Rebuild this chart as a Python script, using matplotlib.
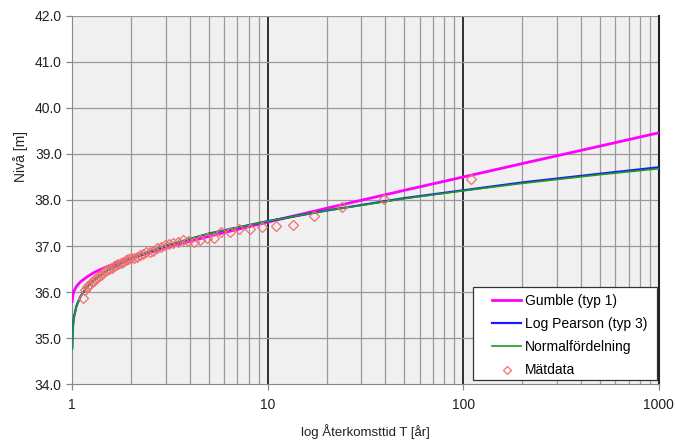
import matplotlib.pyplot as plt
from matplotlib.patches import Rectangle
from matplotlib.ticker import FixedLocator, FuncFormatter, NullFormatter

plt.rcParams['font.family'] = ['Liberation Sans', 'DejaVu Sans']

# return periods for the fitted curves
curve_T = [1.001, 1.002, 1.005, 1.01, 1.02, 1.05, 1.1, 1.2, 1.3, 1.5, 2, 3, 5,
           10, 20, 50, 100, 200, 500, 1000]
gumbel = [35.80, 35.84, 35.89, 35.95, 36.02, 36.12, 36.22, 36.34, 36.43, 36.55,
          36.74, 36.96, 37.21, 37.52, 37.82, 38.21, 38.50, 38.79, 39.17, 39.46]
log_pearson = [34.80, 34.93, 35.12, 35.28, 35.45, 35.69, 35.90, 36.13, 36.27, 36.46,
               36.73, 37.00, 37.27, 37.54, 37.77, 38.04, 38.21, 38.38, 38.57, 38.71]
normal = [34.76, 34.92, 35.11, 35.27, 35.44, 35.68, 35.89, 36.13, 36.27, 36.46,
          36.735, 37.01, 37.27, 37.54, 37.77, 38.03, 38.20, 38.36, 38.55, 38.68]

# observed data (Gringorten plotting positions)
obs_T = [109.14, 39.18, 23.88, 17.17, 13.40, 10.99, 9.32, 8.08, 7.14, 6.39,
         5.79, 5.29, 4.87, 4.51, 4.20, 3.93, 3.69, 3.48, 3.29, 3.12,
         2.97, 2.84, 2.71, 2.59, 2.49, 2.39, 2.30, 2.22, 2.14, 2.07,
         2.00, 1.94, 1.88, 1.82, 1.77, 1.72, 1.67, 1.63, 1.59, 1.55,
         1.51, 1.47, 1.44, 1.40, 1.37, 1.34, 1.31, 1.29, 1.26, 1.23,
         1.21, 1.19, 1.16, 1.14]
obs_level = [38.46, 38.02, 37.85, 37.66, 37.46, 37.44, 37.41, 37.38, 37.38, 37.30,
             37.30, 37.18, 37.18, 37.12, 37.08, 37.10, 37.12, 37.08, 37.06, 37.04,
             37.02, 36.98, 36.95, 36.90, 36.88, 36.86, 36.83, 36.80, 36.77, 36.75,
             36.73, 36.71, 36.69, 36.66, 36.64, 36.61, 36.59, 36.56, 36.53, 36.51,
             36.48, 36.45, 36.41, 36.38, 36.35, 36.31, 36.28, 36.25, 36.21, 36.17,
             36.13, 36.10, 36.05, 35.88]

fig = plt.figure(figsize=(6.75, 4.4), dpi=100)
ax = fig.add_axes([0.107, 0.127, 0.869, 0.837])
ax.set_facecolor('#f0f0f0')

ax.set_xscale('log')
ax.set_xlim(1, 1000)
ax.set_ylim(34, 42)

# grid
minor_x = [m * d for d in (1, 10, 100) for m in range(2, 10)]
for x in minor_x:
    ax.axvline(x, color='#999999', lw=0.9, zorder=0)
for x in (10, 100):
    ax.axvline(x, color='#202020', lw=1.3, zorder=0)
for y in range(35, 43):
    ax.axhline(y, color='#999999', lw=0.9, zorder=0)

ax.plot(curve_T, gumbel, color='#ff00ff', lw=2.0, label='Gumble (typ 1)', zorder=3)
ax.plot(curve_T, log_pearson, color='#1a1aff', lw=1.6, label='Log Pearson (typ 3)', zorder=3)
ax.plot(curve_T, normal, color='#1f9a1f', lw=1.2, label='Normalfördelning', zorder=4)
ax.plot(obs_T, obs_level, linestyle='none', marker='D', markersize=5,
        markerfacecolor='none', markeredgecolor='#f07070', markeredgewidth=0.9,
        label='Mätdata', zorder=5)

ax.xaxis.set_major_locator(FixedLocator([1, 10, 100, 1000]))
ax.xaxis.set_major_formatter(FuncFormatter(lambda v, p: f'{v:g}'))
ax.xaxis.set_minor_locator(FixedLocator(minor_x))
ax.xaxis.set_minor_formatter(NullFormatter())
ax.set_yticks(range(34, 43))
ax.yaxis.set_major_formatter(FuncFormatter(lambda v, p: f'{v:.1f}'))

ax.tick_params(axis='both', which='major', direction='out', length=4, width=0.9,
               color='#888888', labelsize=10, labelcolor='#222222')
ax.tick_params(axis='x', which='minor', length=0)
ax.tick_params(axis='x', which='major', pad=6)

for side in ('left', 'bottom'):
    ax.spines[side].set_color('#888888')
ax.spines['top'].set_visible(False)
ax.spines['right'].set_color('#202020')
ax.spines['right'].set_linewidth(1.5)

ax.set_xlabel('log Återkomsttid T [år]', fontsize=9.5, color='#222222', labelpad=9)
ax.set_ylabel('Nivå [m]', fontsize=10, color='#222222', labelpad=6)
ax.yaxis.set_label_coords(-0.075, 0.617)

# legend box drawn separately so the padding can differ per side
box = Rectangle((0.683, 0.011), 0.3136, 0.2526, transform=ax.transAxes,
                facecolor='white', edgecolor='#333333', lw=0.9, zorder=6)
ax.add_patch(box)
leg = ax.legend(loc='upper left', bbox_to_anchor=(0.7155, 0.245), fontsize=10,
                frameon=False, borderpad=0, borderaxespad=0,
                handlelength=2.1, labelspacing=0.66, handletextpad=0.25,
                markerscale=0.9)
leg.set_zorder(7)

fig.savefig('out.png', dpi=100)
